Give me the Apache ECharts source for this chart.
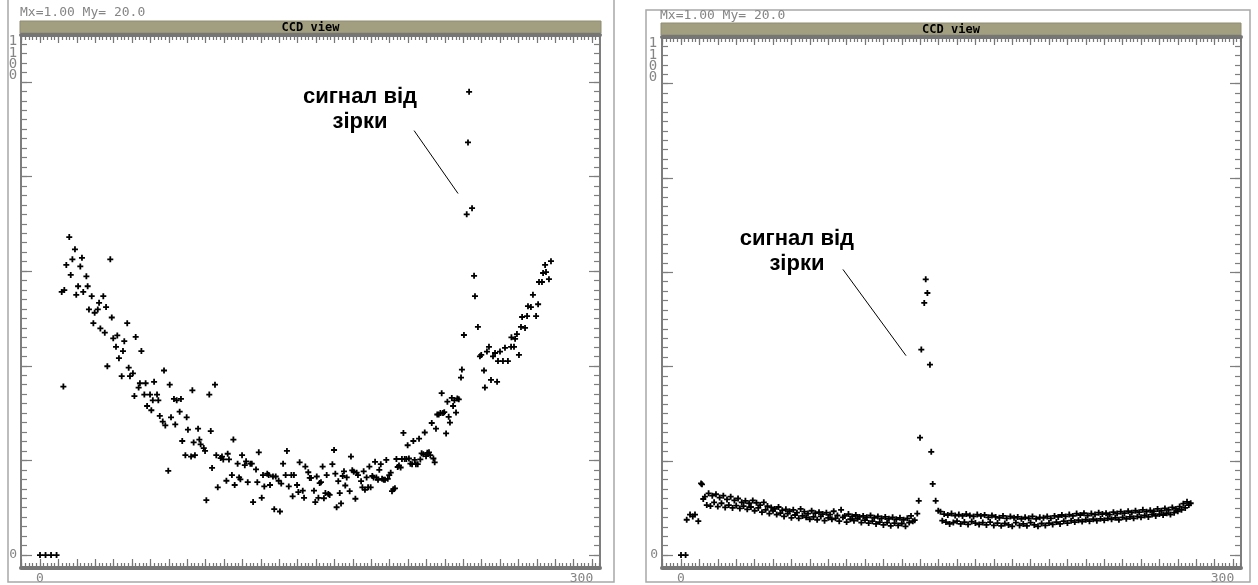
<!DOCTYPE html>
<html>
<head>
<meta charset="utf-8">
<script src="https://cdn.jsdelivr.net/npm/echarts@6/dist/echarts.min.js"></script>
<style>
  html, body { margin: 0; padding: 0; background: #ffffff; }
  #chart { width: 1258px; height: 585px; }
</style>
</head>
<body>
<div id="chart"></div>
<script>
// ---- CCD line readouts: [pixel, signal] ----
// first panel: bright sky gradient with a star near pixel 233
const leftDark = [[0, 0], [3, 0], [6, 0], [9, 0]];
const leftSignal = [
  [11.8,55.6],[12.7,35.6],[13.2,56],[14.3,61.3],[15.9,67.2],[16.7,59.2],[17.6,62.5],[19.0,64.6],[19.7,55],[20.7,56.8],
  [21.9,61],[22.8,62.8],[23.5,55.6],[25.2,58.9],[25.9,56.8],[26.6,51.9],[28.1,54.7],[29.0,49],[29.7,51.2],[31.4,51.9],
  [32.1,53.3],[32.8,47.9],[34.4,54.7],[35.2,47],[35.9,52.4],[36.6,39.9],[38.2,62.5],[39.0,50.2],[39.8,45.8],[41.3,44],
  [42.0,46.4],[42.9,41.6],[44.4,37.8],[45.1,43.1],[45.8,45.2],[47.4,49],[48.2,39.6],[48.9,37.8],[50.5,38.4],[51.3,33.6],
  [52.0,46.1],[53.6,35.4],[54.3,36.3],[55.1,43.1],[56.7,33.9],[57.4,36.3],[58.2,31.5],[59.8,33.9],[60.5,30.6],[61.3,32.7],
  [62.0,36.6],[63.6,33.9],[64.3,32.7],[65.1,29.4],[66.7,28.2],[67.4,39],[68.1,27.4],[69.7,17.8],[70.5,36],[71.2,29.1],
  [72.8,33],[73.5,27.6],[74.3,32.7],[75.9,30.3],[76.6,33],[77.3,24.1],[79.0,21.1],[79.7,29.1],[80.4,26.5],[82.1,20.8],
  [82.8,34.8],[83.5,23.8],[84.2,21.1],[85.9,26.7],[86.6,24.4],[87.3,23.4],[89.0,22.6],[89.7,22],[90.4,11.6],[92.0,33.9],
  [92.8,26.2],[93.5,18.4],[95.1,36],[95.8,21.1],[96.6,14.3],[98.2,20.5],[98.9,20.8],[99.6,20.2],[101.3,15.7],[102.0,21.4],
  [102.7,20.2],[104.3,16.9],[105.1,24.4],[105.8,14.8],[107.4,19.3],[108.2,16.4],[108.9,16],[109.8,21.1],[111.3,19],[112.0,19.8],
  [112.9,15.4],[114.3,19.3],[115.1,19.3],[115.8,11.2],[117.4,18.1],[118.1,15.4],[118.9,21.7],[120.5,12.1],[121.2,16.9],[121.9,14.5],
  [123.5,17.2],[124.3,16.9],[125.0,14.8],[126.6,16.6],[127.3,9.7],[128.1,16.6],[129.7,15.7],[130.4,9.2],[131.1,15.1],[132.1,19.3],
  [133.5,16.9],[134.2,22],[135.2,14.5],[136.6,16.9],[137.3,12.4],[138.0,16.9],[139.7,14.8],[140.4,13.3],[141.1,19.6],[142.8,13.6],
  [143.5,12.1],[144.2,18.7],[145.8,17.5],[146.6,16.3],[147.3,16.3],[148.9,13.6],[149.6,11.2],[150.4,16.6],[151.3,12.1],[152.0,15.2],
  [152.7,15.4],[153.6,18.7],[154.3,12],[155.1,13.1],[155.8,16.9],[156.7,12.9],[157.4,12.7],[158.9,19.2],[159.8,22.2],[160.5,17.2],
  [161.2,10.1],[162.1,15.6],[162.9,13.1],[163.6,10.9],[164.5,16.7],[165.2,17.7],[165.9,14.7],[166.7,16.4],[168.3,13.5],[169.0,20.8],
  [169.7,17.9],[170.5,17.6],[171.4,11.9],[172.1,17.4],[172.8,16.9],[174.5,15.6],[175.2,14.3],[175.9,17.7],[176.6,13.8],[177.5,16.4],
  [178.3,14.3],[179.0,18.7],[179.7,14.3],[180.6,16.7],[181.3,16.4],[182.1,19.7],[182.8,16.4],[183.7,15.9],[184.4,18],[185.2,19.2],
  [185.9,16.1],[186.8,15.9],[187.5,15.9],[188.2,20.1],[189.0,16.1],[189.8,16.9],[190.6,17.4],[191.3,13.5],[192.0,13.9],[192.9,14.1],
  [193.7,20.3],[194.4,18.6],[195.1,18.9],[196.0,18.5],[196.7,20.3],[197.5,25.8],[198.2,20.3],[199.1,20.3],[199.8,23.2],[200.5,20.4],
  [201.3,19.3],[202.2,19.2],[202.9,24.1],[203.6,20.1],[204.3,19.2],[205.3,19.2],[206.0,24.6],[206.7,20.2],[207.4,21.5],[208.3,21.3],
  [209.1,25.9],[209.8,20.9],[210.5,21.6],[211.4,21.7],[212.1,21.1],[212.9,27.9],[213.8,20.4],[214.5,19.6],[215.2,26.7],[215.9,29.7],
  [216.7,29.7],[217.6,30],[218.3,34.2],[219.0,30],[219.7,30.2],[220.7,25.7],[221.4,32.4],[222.1,29.2],[222.8,28],[223.8,33.2],
  [224.5,31.5],[225.2,32.7],[226.1,30.1],[226.8,33.1],[227.6,32.9],[228.8,37.5],[229.3,39.2],[230.4,46.5],[231.9,72],[232.6,87.2],
  [233.2,97.9],[234.8,73.3],[235.9,59],[236.4,54.7],[238.0,48.2],[239.1,42],[239.8,42.3],[241.3,39],[241.8,35.4],[242.9,43],
  [244.0,44],[245.1,37],[246.2,42],[247.3,42.7],[248.4,36.6],[248.9,41],[250.0,43],[251.6,41],[252.7,43.8],[254.3,41],
  [256.0,44],[256.2,46],[257.6,44],[258.2,45.7],[259.2,46.7],[260.3,42.3],[261.4,48.2],[262.0,50.3],[263.6,48],[264.7,50.5],
  [265.2,52.6],[266.8,52.4],[267.9,55],[269.6,50.5],[270.7,53],[271.2,57.7],[272.8,57.7],[273.4,59.6],[274.5,61.3],[275.0,59.8],
  [276.6,58.3],[277.7,62.1]
];

// second panel: flat dark-sky background with a star near pixel 133
const rightDark = [[0, 0], [2.5, 0]];
const rightOnset = [[3.1,7.5],[4.9,8.6],[6.4,8.2],[7.6,8.6],[9.4,7.2],[10.9,15.2],[11.4,15.0],[12.1,11.9]];
const rightBandStart = 13;
const rightBand = [
  12.4,10.6,13.1,10.4,12.6,11.2,12.9,10.3,12.2,11.0,
  12.6,10.1,11.8,10.6,12.4,10.0,11.6,10.5,12.0,9.9,
  11.2,10.4,11.5,9.7,11.0,10.2,11.6,9.4,11.1,10.0,
  10.6,9.1,11.2,9.6,10.4,8.8,10.1,9.4,9.8,8.6,
  10.2,8.9,9.5,8.2,9.7,8.8,9.3,7.9,9.6,8.5,
  9.0,7.8,9.8,8.3,9.2,8.0,8.8,7.6,9.4,8.1,
  8.9,7.5,9.1,8.2,8.7,7.3,9.0,7.9,8.6,7.6,
  9.3,7.8,8.4,7.2,9.6,8.0,8.3,7.0,8.7,7.6,
  8.2,7.3,8.5,7.7,8.1,6.9,8.3,7.4,8.0,6.8,
  8.4,7.2,7.9,6.6,8.2,7.0,7.8,6.4,8.1,6.9,
  7.7,6.2,8.0,6.8,7.6,6.3,7.9,6.7,7.5,6.1,
  7.8,6.9,8.3,7.2,7.4
];
const rightStar = [[128.4,8.8],[129.2,11.5],[129.9,24.9],[130.6,43.6],[132.2,53.5],[133.0,58.5],[133.9,55.6],[135.3,40.4],[136.0,21.9],[136.8,15.1],[138.4,11.5],[139.8,9.4]];
const rightTailStart = 141;
const rightTail = [
  9.2,7.3,8.7,7.0,8.5,6.6,8.8,6.9,8.4,7.2,
  8.6,6.6,8.3,7.0,8.7,6.5,8.4,7.1,8.2,6.8,
  8.6,6.5,8.3,6.9,8.5,6.4,8.0,7.0,8.4,6.3,
  8.1,6.8,7.9,6.2,8.3,6.7,7.8,6.4,8.2,6.1,
  7.9,6.9,8.1,6.3,7.7,6.6,8.0,6.2,7.8,6.9,
  8.2,6.4,7.7,6.1,8.0,6.7,7.9,6.3,8.2,6.8,
  7.8,6.5,8.3,7.0,8.1,6.6,8.5,7.2,8.2,6.8,
  8.6,7.3,8.3,7.0,8.8,7.4,8.5,7.1,8.9,7.5,
  8.4,7.2,8.8,7.6,8.6,7.3,9.0,7.7,8.7,7.4,
  8.9,7.8,8.6,7.6,9.1,7.9,8.8,7.5,9.2,8.0,
  8.9,7.7,9.3,8.1,9.0,7.8,9.4,8.2,9.1,8.0,
  9.6,8.4,9.2,8.1,9.5,8.6,9.3,8.3,9.8,8.7,
  9.4,8.5,9.9,8.9,9.6,8.6,10.1,9.0,9.8,9.3,
  10.3,9.6,10.9,10.0,11.3,10.6,11.0
];

// axis tick labels
const xTickLabels = [0, 300];
const yTickLabels = [0];
const topScaleLabel = '1\n1\n0\n0';
const headerText = 'Mx=1.00 My= 20.0';
const panelTitle = 'CCD view';
const noteText = 'сигнал від\nзірки';

// annotation anchors in data units: [text centre, pointer start, pointer end]
const leftNote = { text: [173.9, 94.2], from: [203.3, 89.7], to: [227.2, 76.4] };
const rightNote = { text: [63.0, 64.4], from: [88.0, 60.6], to: [122.3, 42.3] };

// ---- assemble series data ----
function withPixels(start, values) {
  return values.map(function (v, i) { return [start + i, v]; });
}
const leftPoints = leftDark.concat(leftSignal);
const rightPoints = rightDark
  .concat(rightOnset)
  .concat(withPixels(rightBandStart, rightBand))
  .concat(rightStar)
  .concat(withPixels(rightTailStart, rightTail));

// ---- look ----
const AXIS_GRAY = '#7e7e7e';
const RULER_GRAY = '#767676';
const LABEL_GRAY = '#858585';
const LABEL_FONT = '"DejaVu Sans Mono", monospace';
const X_MIN = -10.33, X_MAX = 304.34;
const Y_MIN = -2.74, Y_MAX = 109.9;

function range(a, b, step) {
  const out = [];
  for (let t = a; t <= b + 1e-9; t += step) out.push(t);
  return out;
}
const xMinorTicks = range(-10, 304, 2);
const xMajorTicks = range(-10, 300, 10);
const yMinorTicks = range(0, 108, 2);
const yMajorTicks = range(0, 100, 20);

const plus = 'path://M2.1,0H3.9V2.1H6V3.9H3.9V6H2.1V3.9H0V2.1H2.1Z';

const grids = [
  { left: 21, top: 35, width: 579, height: 535 },
  { left: 662, top: 37, width: 579, height: 535 }
];

function tickAxis(kind, gi, position, ticks, len, showLine, color, lineWidth) {
  const isX = kind === 'x';
  return {
    type: 'value', gridIndex: gi, position: position,
    min: isX ? X_MIN : Y_MIN, max: isX ? X_MAX : Y_MAX,
    axisLine: { show: showLine, onZero: false, lineStyle: { color: color, width: lineWidth } },
    axisTick: { show: true, inside: true, length: len, customValues: ticks, lineStyle: { color: color, width: 1.2 } },
    splitLine: { show: false },
    axisLabel: { show: false }
  };
}

const xAxes = [];
const yAxes = [];
grids.forEach(function (g, gi) {
  // bottom ruler: main axis carrying the series, with labels
  const bottom = tickAxis('x', gi, 'bottom', xMinorTicks, 5, true, RULER_GRAY, 4);
  bottom.axisLabel = {
    show: true, customValues: xTickLabels, margin: 4,
    color: LABEL_GRAY, fontFamily: LABEL_FONT, fontSize: 13,
    formatter: function (v) { return v === 300 ? '{end|300}' : String(v); },
    rich: { end: { padding: [0, 21, 0, 0], color: LABEL_GRAY, fontFamily: LABEL_FONT, fontSize: 13 } }
  };
  xAxes.push(bottom);
  xAxes.push(tickAxis('x', gi, 'bottom', xMajorTicks, 9, false, RULER_GRAY, 4));
  // top ruler
  xAxes.push(tickAxis('x', gi, 'top', xMinorTicks, 5, true, RULER_GRAY, 4));
  xAxes.push(tickAxis('x', gi, 'top', xMajorTicks, 8, false, RULER_GRAY, 4));

  // left scale: main axis carrying the series, with the zero label
  const left = tickAxis('y', gi, 'left', yMinorTicks, 6, true, AXIS_GRAY, 2);
  left.axisLabel = { show: true, customValues: yTickLabels, margin: 4, color: LABEL_GRAY, fontFamily: LABEL_FONT, fontSize: 13 };
  yAxes.push(left);
  yAxes.push(tickAxis('y', gi, 'left', yMajorTicks, 11, false, AXIS_GRAY, 2));
  // right scale
  yAxes.push(tickAxis('y', gi, 'right', yMinorTicks, 6, true, AXIS_GRAY, 2));
  yAxes.push(tickAxis('y', gi, 'right', yMajorTicks, 11, false, AXIS_GRAY, 2));
});

function scatter(points, gi) {
  return {
    type: 'scatter', xAxisIndex: gi * 4, yAxisIndex: gi * 4, data: points,
    symbol: plus, symbolSize: 6, itemStyle: { color: '#000000', opacity: 1 },
    silent: true, animation: false
  };
}

const chart = echarts.init(document.getElementById('chart'), null, { renderer: 'canvas' });
chart.setOption({
  backgroundColor: '#ffffff',
  animation: false,
  grid: grids,
  xAxis: xAxes,
  yAxis: yAxes,
  series: [scatter(leftPoints, 0), scatter(rightPoints, 1)]
});

// panel furniture and the "star signal" notes
function panelDecor(frame, bar, header, stackX, stackY) {
  return [
    { type: 'rect', shape: frame, style: { fill: 'none', stroke: '#a8a8a8', lineWidth: 1.5 }, silent: true },
    { type: 'rect', shape: bar, style: { fill: '#a29f81', stroke: '#8f8c70', lineWidth: 1 }, silent: true },
    { type: 'text', x: bar.x + bar.width / 2, y: bar.y + bar.height / 2 + 1, silent: true,
      style: { text: panelTitle, fill: '#000000', font: 'bold 12px ' + LABEL_FONT, textAlign: 'center', textVerticalAlign: 'middle' } },
    { type: 'text', x: header[0], y: header[1], silent: true,
      style: { text: headerText, fill: LABEL_GRAY, font: '13px ' + LABEL_FONT, textAlign: 'left', textVerticalAlign: 'middle' } },
    { type: 'text', x: stackX, y: stackY, silent: true,
      style: { text: topScaleLabel, fill: LABEL_GRAY, font: '14px ' + LABEL_FONT, lineHeight: 11.3, textAlign: 'center', textVerticalAlign: 'top' } }
  ];
}

function noteDecor(note, gi) {
  const t = chart.convertToPixel({ gridIndex: gi }, note.text);
  const a = chart.convertToPixel({ gridIndex: gi }, note.from);
  const b = chart.convertToPixel({ gridIndex: gi }, note.to);
  return [
    { type: 'line', shape: { x1: a[0], y1: a[1], x2: b[0], y2: b[1] }, style: { stroke: '#000000', lineWidth: 1 }, silent: true },
    { type: 'text', x: t[0], y: t[1], silent: true,
      style: { text: noteText, fill: '#000000', font: 'bold 22px "Liberation Sans", Arial, sans-serif', lineHeight: 25, textAlign: 'center', textVerticalAlign: 'middle' } }
  ];
}

chart.setOption({
  graphic: []
    .concat(panelDecor({ x: 8, y: -5, width: 606, height: 587 }, { x: 20, y: 21, width: 581, height: 12 }, [20, 13], 13, 36))
    .concat(panelDecor({ x: 646, y: 10, width: 604, height: 572 }, { x: 661, y: 23, width: 580, height: 12 }, [660, 16], 653, 38))
    .concat(noteDecor(leftNote, 0))
    .concat(noteDecor(rightNote, 1))
});
</script>
</body>
</html>
